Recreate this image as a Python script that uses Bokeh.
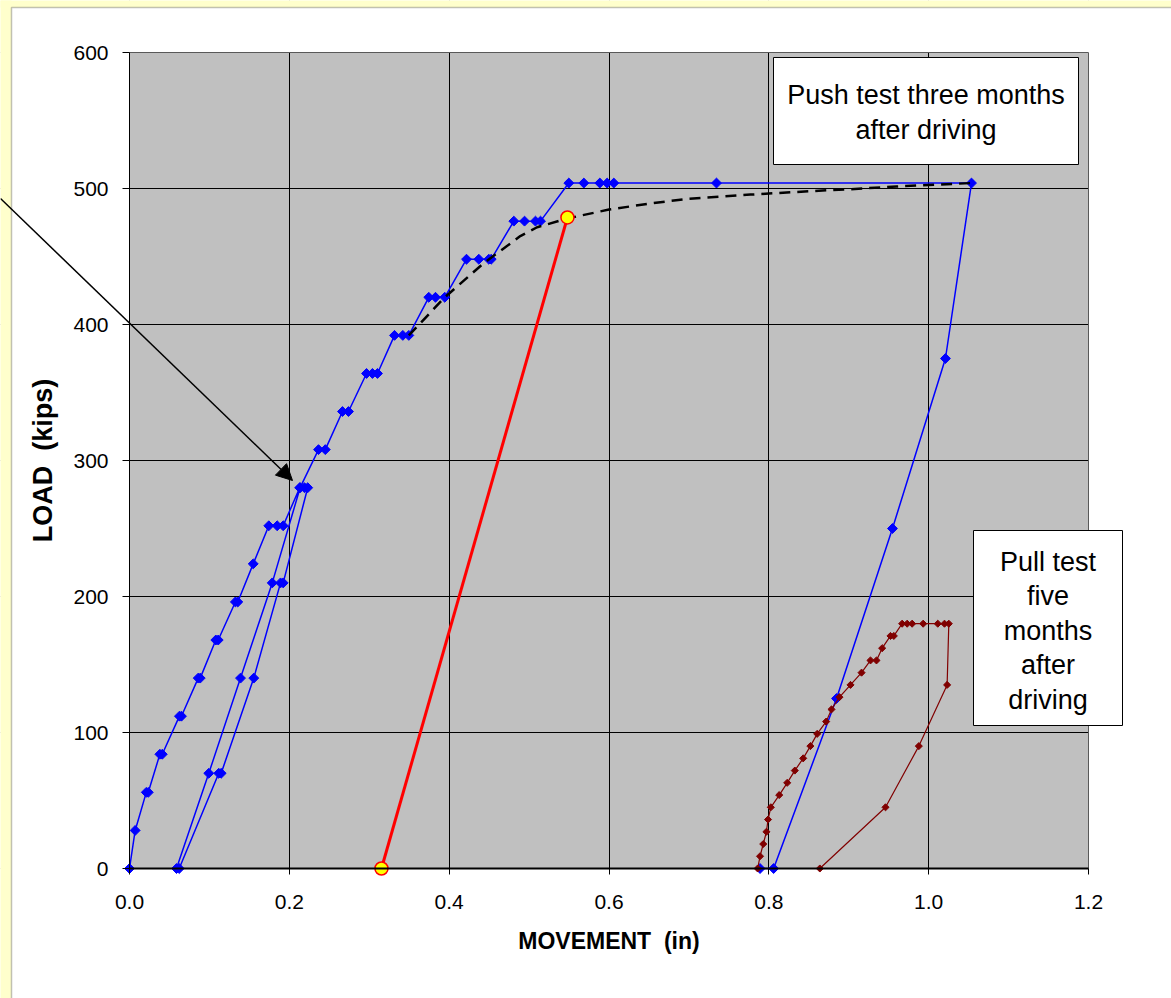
import math
from bokeh.plotting import figure
from bokeh.models import (Range1d, FixedTicker, NumeralTickFormatter, Arrow,
                          NormalHead, BoxAnnotation, Label)
from bokeh.embed import file_html
from bokeh.resources import INLINE

# ---------------- data ----------------
x_ticks = [0.0, 0.2, 0.4, 0.6, 0.8, 1.0, 1.2]
y_ticks = [0, 100, 200, 300, 400, 500, 600]

# Push test three months after driving (blue)
push_x = [0.0, 0.0071, 0.021, 0.0235, 0.038, 0.041, 0.0625, 0.065, 0.086, 0.0885,
          0.108, 0.111, 0.1325, 0.1355, 0.1548, 0.1743, 0.1848, 0.1923, 0.213, 0.219, 0.223,
          0.1923, 0.189, 0.1555, 0.1147, 0.1117, 0.0622, 0.0588, 0.0992, 0.1389, 0.1786, 0.2135,
          0.2365, 0.245, 0.2665, 0.274, 0.2966, 0.304, 0.3103, 0.3316, 0.342, 0.3495,
          0.3745, 0.3829, 0.3945, 0.4217, 0.4371, 0.4496, 0.4526, 0.4809, 0.4943, 0.508, 0.5143,
          0.5497, 0.5685, 0.5885, 0.5977, 0.606, 0.7345, 1.0536,
          1.021, 0.9547, 0.8847, 0.806, 0.789]
push_y = [0, 28, 56, 56, 84, 84, 112, 112, 140, 140,
          168, 168, 196, 196, 224, 252, 252, 252, 280, 280, 280,
          210, 210, 140, 70, 70, 0, 0, 70, 140, 210, 280,
          308, 308, 336, 336, 364, 364, 364, 392, 392, 392,
          420, 420, 420, 448, 448, 448, 448, 476, 476, 476, 476,
          504, 504, 504, 504, 504, 504, 504,
          375, 250, 125, 0, 0]

# Pull test five months after driving (dark red)
pull_x = [0.786, 0.789, 0.793, 0.797, 0.799, 0.8025, 0.813, 0.823, 0.8325, 0.843,
          0.852, 0.8605, 0.8717, 0.8784, 0.8884, 0.9022, 0.916, 0.9272, 0.9347, 0.9418,
          0.9522, 0.9564, 0.9668, 0.9731, 0.9793, 0.9931, 1.0114, 1.0198, 1.0252,
          1.0231, 0.9877, 0.946, 0.8638]
pull_y = [0, 9, 18, 27, 36, 45, 54, 63, 72, 81,
          90, 99, 108, 117, 126, 135, 144, 153, 153, 162,
          171, 171, 180, 180, 180, 180, 180, 180, 180,
          135, 90, 45, 0]

# Fitted curve (black dashed)
fit_x = [0.3495, 0.3945, 0.443, 0.489, 0.510, 0.548, 0.60, 0.652, 0.70, 0.777,
         0.85, 0.902, 0.96, 1.0536]
fit_y = [392, 420, 445, 465, 471.5, 478, 484.5, 489, 492.5, 495.5,
         498, 499.5, 501.5, 504]

# Red line with yellow end points
red_x = [0.3153, 0.548]
red_y = [0, 478.7]

FONT = "Liberation Sans"
W, H = 1171, 998

# pixel -> data helpers (used only to place annotations / frame)
PX_PER_X = (1088 - 129) / 1.2
PX_PER_Y = (868 - 52) / 600.0


def sx(px):
    return (px - 129) / PX_PER_X


def sy(py):
    return (868 - py) / PX_PER_Y


p = figure(width=W, height=H,
           x_range=Range1d(sx(0), sx(W)), y_range=Range1d(sy(H), sy(0)),
           output_backend="svg", toolbar_location=None, min_border=0)
p.outline_line_color = None
p.background_fill_color = "white"
p.border_fill_color = "white"

XMIN, XMAX = x_ticks[0], x_ticks[-1]
YMIN, YMAX = y_ticks[0], y_ticks[-1]

# plot area (gray)
p.add_layout(BoxAnnotation(left=XMIN, right=XMAX, bottom=YMIN, top=YMAX,
                           fill_color="#C0C0C0", fill_alpha=1, line_color=None,
                           level="image"))

# grids
p.xgrid.ticker = FixedTicker(ticks=x_ticks)
p.ygrid.ticker = FixedTicker(ticks=y_ticks)
for g in (p.xgrid, p.ygrid):
    g.grid_line_color = "black"
    g.grid_line_width = 1
    g.grid_line_alpha = 1

# white masks around the plot area (hide grid outside it)
BIGL, BIGR, BIGB, BIGT = sx(-50), sx(W + 50), sy(H + 50), sy(-50)
for l, r, b, t in [(BIGL, XMIN, BIGB, BIGT), (XMAX, BIGR, BIGB, BIGT),
                   (BIGL, BIGR, YMAX, BIGT), (BIGL, BIGR, BIGB, YMIN)]:
    p.add_layout(BoxAnnotation(left=l, right=r, bottom=b, top=t, fill_color="white",
                               fill_alpha=1, line_color=None, level="underlay"))
# plot-area border
p.add_layout(BoxAnnotation(left=XMIN, right=XMAX, bottom=YMIN, top=YMAX,
                           fill_color=None, line_color="black", line_width=1,
                           level="underlay"))
# yellow page strips and chart-area border
p.add_layout(BoxAnnotation(left=BIGL, right=sx(11), bottom=BIGB, top=BIGT,
                           fill_color="#FFFFCC", fill_alpha=1, line_color=None,
                           level="underlay"))
p.add_layout(BoxAnnotation(left=BIGL, right=BIGR, bottom=sy(7), top=BIGT,
                           fill_color="#FFFFCC", fill_alpha=1, line_color=None,
                           level="underlay"))
p.add_layout(BoxAnnotation(left=sx(11), right=BIGR, bottom=BIGB, top=sy(7),
                           fill_color=None, line_color="#333333", line_width=1.5,
                           level="underlay"))

# axes (fixed at the data origin)
p.xaxis.fixed_location = 0
p.yaxis.fixed_location = 0
p.xaxis.bounds = (XMIN, XMAX)
p.yaxis.bounds = (YMIN, YMAX)
p.xaxis.ticker = FixedTicker(ticks=x_ticks)
p.xaxis.formatter = NumeralTickFormatter(format="0.0")
p.yaxis.ticker = FixedTicker(ticks=y_ticks)
for ax in (p.xaxis, p.yaxis):
    ax.axis_line_color = "black"
    ax.major_tick_line_color = "black"
    ax.major_tick_in = 0
    ax.minor_tick_line_color = None
    ax.major_label_text_font = FONT
    ax.major_label_text_font_size = "21px"
    ax.major_label_text_color = "black"
    ax.axis_label_text_font = FONT
    ax.axis_label_text_font_style = "bold"
    ax.axis_label_text_color = "black"
p.xaxis.axis_line_width = 2
p.xaxis.major_tick_out = 6
p.xaxis.major_label_standoff = 20
p.xaxis.axis_label = "MOVEMENT\u00a0\u00a0(in)"
p.xaxis.axis_label_text_font_size = "23px"
p.xaxis.axis_label_standoff = 16
p.yaxis.major_tick_out = 7
p.yaxis.major_label_standoff = 14
p.yaxis.axis_label = "LOAD\u00a0\u00a0(kips)"
p.yaxis.axis_label_text_font_size = "27px"
p.yaxis.axis_label_standoff = 12

# series
p.line(push_x, push_y, line_color="#0000FF", line_width=1.5)
p.scatter(push_x, push_y, marker="square", angle=math.pi / 4, size=7,
          fill_color="#0000FF", line_color="#0000FF")

p.line(pull_x, pull_y, line_color="#800000", line_width=1.2)
p.scatter(pull_x, pull_y, marker="square", angle=math.pi / 4, size=5,
          fill_color="#800000", line_color="#800000")

p.line(fit_x, fit_y, line_color="black", line_width=2.5, line_dash="11 7")

p.line(red_x, red_y, line_color="#FF0000", line_width=3)
p.scatter(red_x, red_y, marker="circle", size=13, fill_color="#FFFF00",
          line_color="#FF0000", line_width=1.5)

# arrow
p.add_layout(Arrow(end=NormalHead(size=16, fill_color="black", line_color="black"),
                   x_start=sx(0), y_start=sy(198), x_end=sx(292), y_end=sy(480),
                   line_color="black", line_width=1.5))

# text boxes
p.add_layout(BoxAnnotation(left=sx(773), right=sx(1078), top=sy(57), bottom=sy(164),
                           fill_color="white", fill_alpha=1, line_color="black",
                           line_width=1, line_alpha=1))
p.add_layout(BoxAnnotation(left=sx(973), right=sx(1122), top=sy(530), bottom=sy(725),
                           fill_color="white", fill_alpha=1, line_color="black",
                           line_width=1, line_alpha=1))

for txt, py in [("Push test three months", 94), ("after driving", 129)]:
    p.add_layout(Label(x=sx(925.5), y=sy(py), text=txt, text_align="center",
                       text_baseline="middle", text_font=FONT, text_font_size="27px",
                       text_color="black"))
for txt, py in [("Pull test", 561), ("five", 595.5), ("months", 630),
                ("after", 664.5), ("driving", 699)]:
    p.add_layout(Label(x=sx(1047.5), y=sy(py), text=txt, text_align="center",
                       text_baseline="middle", text_font=FONT, text_font_size="27px",
                       text_color="black"))

open("out.html", "w").write(file_html(p, INLINE))
